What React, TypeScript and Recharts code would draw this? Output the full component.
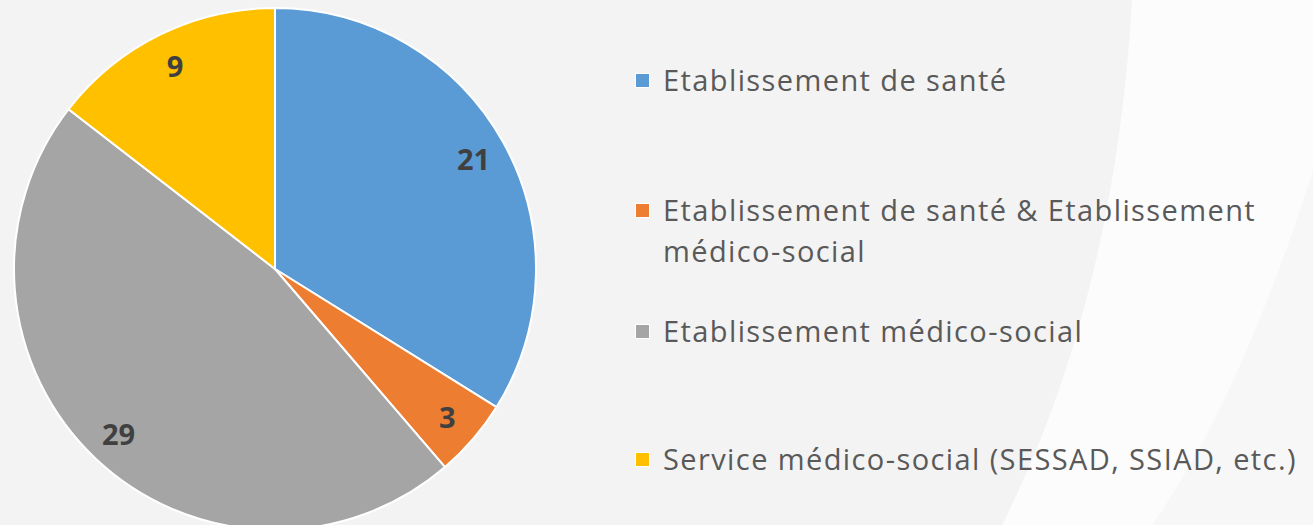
import { PieChart, Pie, Cell, Legend } from 'recharts';

// categories and counts
const categories = [
  'Etablissement de santé',
  'Etablissement de santé & Etablissement médico-social',
  'Etablissement médico-social',
  'Service médico-social (SESSAD, SSIAD, etc.)',
];
const counts = [21, 3, 29, 9];
const colors = ['#5b9bd5', '#ed7d31', '#a5a5a5', '#ffc000'];

const data = categories.map((name, i) => ({ name, value: counts[i] }));

const W = 1313;
const H = 525;
const legendTops = [59, 189, 310, 438];
const RADIAN = Math.PI / 180;

const renderLabel = (props) => {
  const { cx, cy, midAngle, outerRadius, value } = props;
  const r = outerRadius * 0.87;
  const x = cx + r * Math.cos(-midAngle * RADIAN);
  const y = cy + r * Math.sin(-midAngle * RADIAN);
  return (
    <text
      x={x}
      y={y}
      fill="#404040"
      textAnchor="middle"
      dominantBaseline="central"
      fontFamily="'Open Sans', sans-serif"
      fontWeight={700}
      fontSize={29}
    >
      {value}
    </text>
  );
};

const renderLegend = (props) => {
  const { payload } = props;
  return (
    <div style={{ position: 'relative', width: 680, height: H }}>
      {payload.map((entry, i) => (
        <div
          key={entry.value}
          style={{
            position: 'absolute',
            top: legendTops[i],
            left: 0,
            display: 'flex',
            alignItems: 'flex-start',
            width: 680,
          }}
        >
          <span
            style={{
              display: 'inline-block',
              width: 13,
              height: 13,
              marginTop: 15,
              marginRight: 14,
              flex: 'none',
              background: entry.color,
              outline: '1px solid #ffffff',
            }}
          />
          <span
            style={{
              maxWidth: 655,
              fontFamily: "'Open Sans', sans-serif",
              fontSize: 29,
              letterSpacing: 1.4,
              lineHeight: '41px',
              color: '#595959',
            }}
          >
            {entry.value}
          </span>
        </div>
      ))}
    </div>
  );
};

export default function App() {
  return (
    <div style={{ position: 'absolute', left: 0, top: 0, width: W, height: H, overflow: 'hidden' }}>
      <svg width={W} height={H} style={{ position: 'absolute', left: 0, top: 0 }}>
        <rect x={0} y={0} width={W} height={H} fill="#fcfcfc" />
        <path d="M0,0 L1132,0 Q1115,300 1002,525 L0,525 Z" fill="#f3f3f3" />
        <path d="M1313,170 Q1240,400 1152,525 L1313,525 Z" fill="#f7f7f7" />
      </svg>
      <div style={{ position: 'absolute', left: 0, top: 0 }}>
        <PieChart width={W} height={H} margin={{ top: 0, right: 0, bottom: 0, left: 0 }}>
          <Pie
            data={data}
            dataKey="value"
            nameKey="name"
            cx={275}
            cy={269}
            outerRadius={261}
            startAngle={90}
            endAngle={-270}
            stroke="#ffffff"
            strokeWidth={2}
            label={renderLabel}
            labelLine={false}
            isAnimationActive={false}
          >
            {data.map((d, i) => (
              <Cell key={d.name} fill={colors[i]} />
            ))}
          </Pie>
          <Legend
            layout="vertical"
            verticalAlign="top"
            align="right"
            content={renderLegend}
            wrapperStyle={{ left: 636, top: 0, width: 680 }}
          />
        </PieChart>
      </div>
    </div>
  );
}
